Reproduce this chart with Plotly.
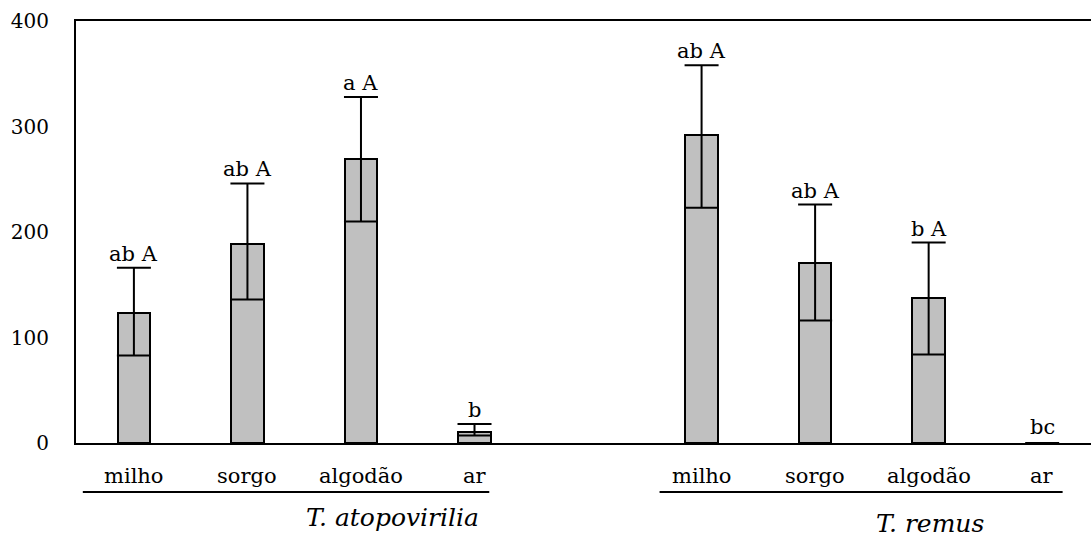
import plotly.graph_objects as go

# Parasitism by Trichogramma species on odour sources
species = ["T. atopovirilia", "T. remus"]
sources = ["milho", "sorgo", "algodão", "ar"]

atopo_mean = [123, 189, 269, 10]
atopo_upper = [166, 246, 328, 18]
atopo_lower = [83, 136, 210, 7]
atopo_letters = ["ab A", "ab A", "a A", "b"]

remus_mean = [292, 171, 137, 0]
remus_upper = [358, 226, 190, 0]
remus_lower = [223, 116, 84, 0]
remus_letters = ["ab A", "ab A", "b A", "bc"]

y_ticks = [0, 100, 200, 300, 400]

FONT = "DejaVu Serif"
H_PLOT = 422.0
BOTTOM = 443.0


def py(pixel_y):
    # pixel row in the page -> paper coordinate of the plotting area
    return (BOTTOM - pixel_y) / H_PLOT


# one empty slot separates the two species
x1 = [i for i in range(len(sources))]
x2 = [i + len(sources) + 1 for i in range(len(sources))]

means = atopo_mean + remus_mean
uppers = atopo_upper + remus_upper
lowers = atopo_lower + remus_lower
xs = x1 + x2

fig = go.Figure()
fig.add_trace(go.Bar(
    x=xs,
    y=means,
    width=0.285,
    marker=dict(color="#c0c0c0", line=dict(color="black", width=2)),
    error_y=dict(
        type="data",
        symmetric=False,
        array=[u - m for u, m in zip(uppers, means)],
        arrayminus=[m - l for m, l in zip(means, lowers)],
        color="black",
        thickness=2,
        width=17,
    ),
    showlegend=False,
))

annotations = []
for x, up, txt in zip(xs, uppers, atopo_letters + remus_letters):
    annotations.append(dict(
        x=x, y=up, xref="x", yref="y", text=txt, showarrow=False,
        yanchor="middle", yshift=16 if up == 0 else 14,
        font=dict(family=FONT, size=21, color="black"),
    ))

for x, name in zip(xs, sources + sources):
    annotations.append(dict(
        x=x, y=py(476), xref="x", yref="paper", text=name, showarrow=False,
        yanchor="middle",
        font=dict(family=FONT, size=21, color="black"),
    ))

group_label_pos = [(2.28, 517), (7.01, 523)]
for (gx, gy), name in zip(group_label_pos, species):
    annotations.append(dict(
        x=gx, y=py(gy), xref="x", yref="paper", text="<i>%s</i>" % name,
        showarrow=False, yanchor="middle",
        font=dict(family=FONT, size=25, color="black"),
    ))

shapes = []
for x0, x1_ in [(-0.45, 3.13), (4.63, 8.18)]:
    shapes.append(dict(
        type="line", xref="x", yref="paper", x0=x0, x1=x1_,
        y0=py(492), y1=py(492), line=dict(color="black", width=2),
    ))

fig.update_layout(
    width=1091,
    height=540,
    margin=dict(l=76, r=0, t=21, b=97),
    plot_bgcolor="white",
    paper_bgcolor="white",
    bargap=0,
    annotations=annotations,
    shapes=shapes,
    xaxis=dict(
        range=[-0.51, 8.43],
        showticklabels=False,
        ticks="",
        showgrid=False,
        zeroline=False,
        showline=True,
        mirror=True,
        linecolor="black",
        linewidth=2,
    ),
    yaxis=dict(
        range=[0, 400],
        tickvals=y_ticks,
        ticktext=[str(v) for v in y_ticks],
        ticks="",
        ticklabelstandoff=21,
        showgrid=False,
        zeroline=False,
        showline=True,
        linecolor="black",
        linewidth=2,
        tickfont=dict(family=FONT, size=20, color="black"),
    ),
)

fig.write_html("out.html")
